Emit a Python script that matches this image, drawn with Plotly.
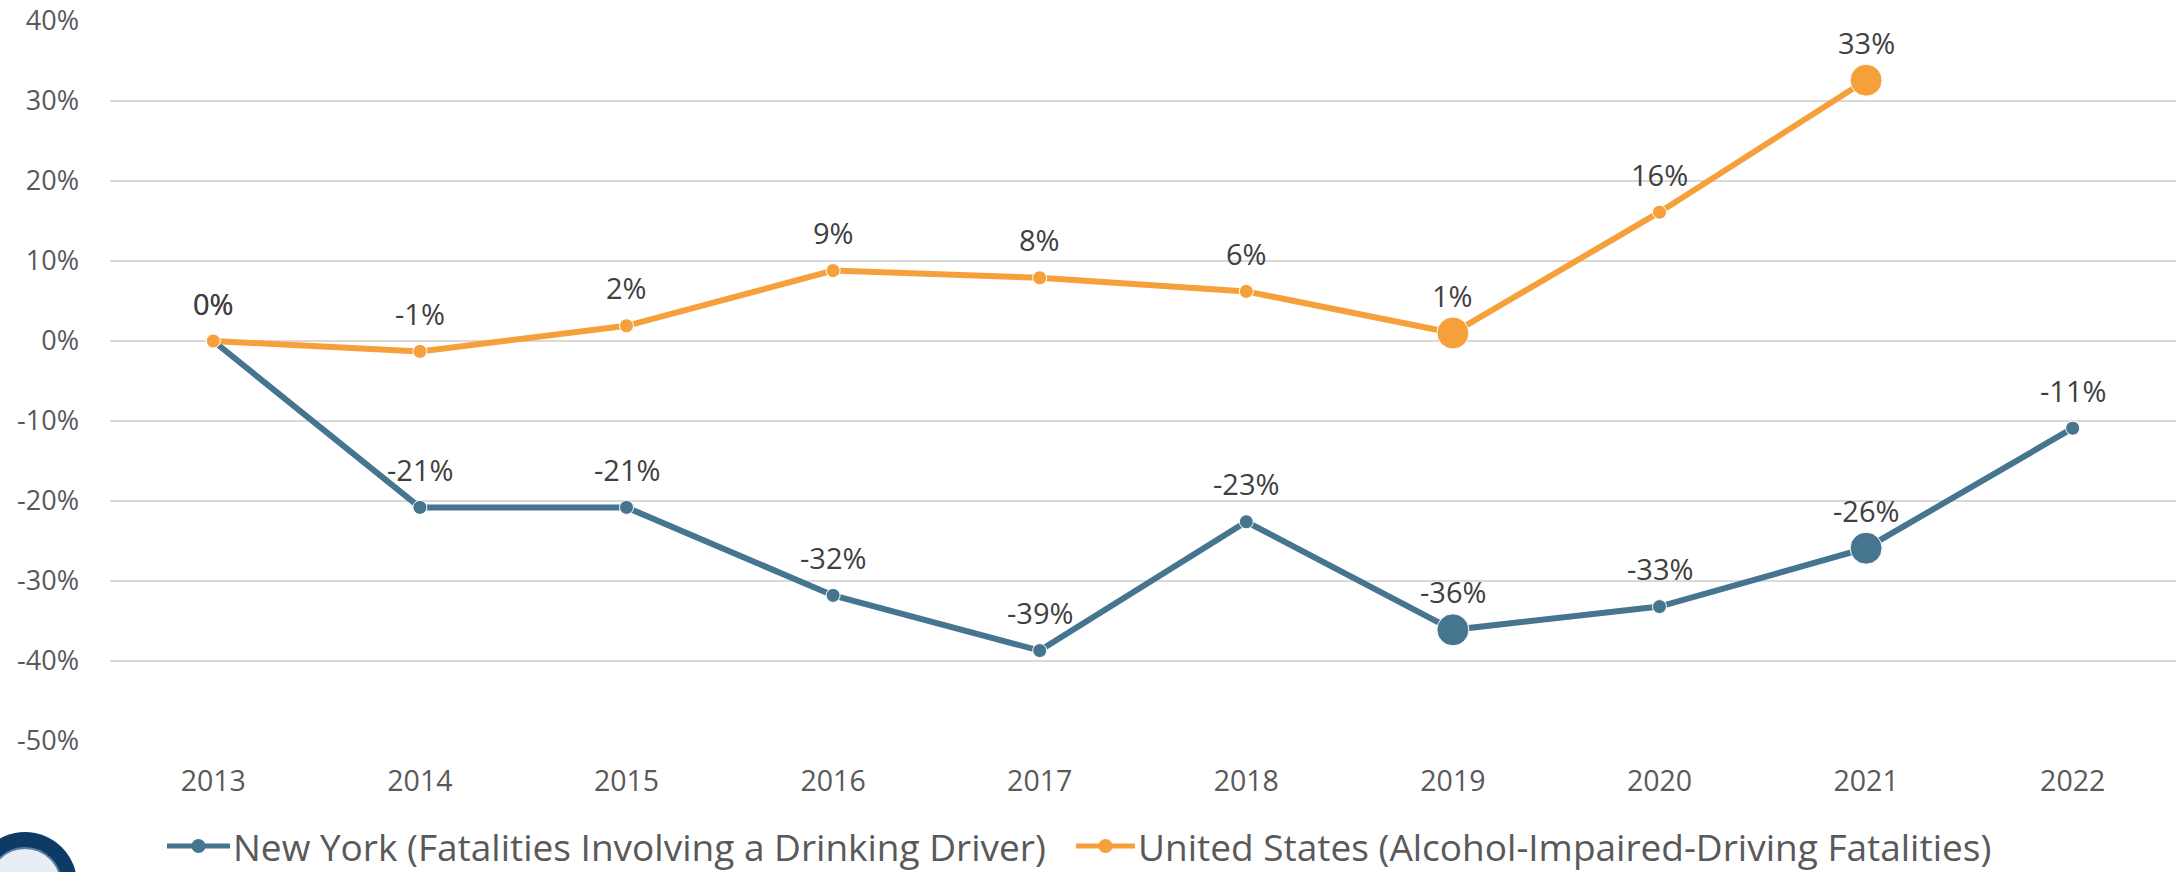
import plotly.graph_objects as go

years = ["2013", "2014", "2015", "2016", "2017", "2018", "2019", "2020", "2021", "2022"]
ny_values = [0.0, -0.208, -0.208, -0.318, -0.387, -0.226, -0.361, -0.332, -0.259, -0.109]
us_values = [0.0, -0.013, 0.019, 0.088, 0.079, 0.062, 0.010, 0.161, 0.326, None]
ny_name = "New York (Fatalities Involving a Drinking Driver)"
us_name = "United States (Alcohol-Impaired-Driving Fatalities)"
highlight_years = ["2019", "2021"]
y_tick_values = [0.4, 0.3, 0.2, 0.1, 0.0, -0.1, -0.2, -0.3, -0.4, -0.5]
y_tick_labels = ["40%", "30%", "20%", "10%", "0%", "-10%", "-20%", "-30%", "-40%", "-50%"]

BLUE = "#46758F"
ORANGE = "#F5A03A"
FONT = "Open Sans"

W, H = 2183, 872
L, R, T, B = 110, 7, 21, 131


def sizes(vals):
    return [32 if y in highlight_years else 14 for y, v in zip(years, vals)]


def label(v):
    return f"{round(v * 100):.0f}%"


def px_x(p):
    return (p - L) / (W - L - R)


def px_y(p):
    return (H - B - p) / (H - T - B)


fig = go.Figure()
series = [(ny_name, ny_values, BLUE), (us_name, us_values, ORANGE)]
for name, vals, color in series:
    fig.add_trace(go.Scatter(
        x=years, y=vals, name=name, mode="lines+markers",
        line=dict(color=color, width=6),
        marker=dict(color=color, size=sizes(vals), opacity=1),
        cliponaxis=False, showlegend=False,
    ))
    for i, v in enumerate(vals):
        if v is None:
            continue
        fig.add_annotation(x=i, y=v, text=label(v), showarrow=False,
                           yanchor="middle", yshift=38,
                           font=dict(family=FONT, size=29, color="#404040"))

# legend (line + marker symbol, then series name)
legend_y = 846
legend_slots = [(167, 230), (1076, 1135)]
for (name, vals, color), (x0, x1) in zip(series, legend_slots):
    fig.add_shape(type="line", xref="paper", yref="paper",
                  x0=px_x(x0), x1=px_x(x1), y0=px_y(legend_y), y1=px_y(legend_y),
                  line=dict(color=color, width=5))
    xm = (x0 + x1) / 2
    fig.add_shape(type="circle", xref="paper", yref="paper",
                  x0=px_x(xm - 7), x1=px_x(xm + 7),
                  y0=px_y(legend_y + 7), y1=px_y(legend_y - 7),
                  fillcolor=color, line=dict(width=0))
    fig.add_annotation(xref="paper", yref="paper", x=px_x(x1 + 1), y=px_y(legend_y),
                       xanchor="left", yanchor="middle", text=name, showarrow=False,
                       font=dict(family=FONT, size=37, color="#595959"))

# partial logo in bottom-left corner
cx, cy, r = 25, 884, 52
fig.add_shape(type="circle", xref="paper", yref="paper", layer="above",
              x0=px_x(cx - r), x1=px_x(cx + r), y0=px_y(cy + r), y1=px_y(cy - r),
              fillcolor="#0E3A66", line=dict(width=0))
r2 = 36
fig.add_shape(type="circle", xref="paper", yref="paper", layer="above",
              x0=px_x(cx - r2), x1=px_x(cx + r2), y0=px_y(cy + r2), y1=px_y(cy - r2),
              fillcolor="#E8EEF4", line=dict(color="#5A7FA3", width=2))
fig.add_annotation(xref="paper", yref="paper", x=px_x(22), y=px_y(846),
                   text="Traffic", showarrow=False, textangle=18,
                   font=dict(family=FONT, size=13, color="white"))

fig.update_layout(
    width=W, height=H,
    margin=dict(l=L, r=R, t=T, b=B, autoexpand=False),
    paper_bgcolor="white", plot_bgcolor="white",
    font=dict(family=FONT, color="#595959"),
    showlegend=False,
)
fig.update_xaxes(type="category", categoryorder="array", categoryarray=years,
                 range=[-0.5, len(years) - 0.5],
                 showgrid=False, showline=False, zeroline=False,
                 tickfont=dict(family=FONT, size=28.5, color="#595959"),
                 ticks="", ticklabelstandoff=20)
fig.update_yaxes(range=[-0.5, 0.4], tickvals=y_tick_values, ticktext=y_tick_labels,
                 showgrid=True, gridcolor="#D9D9D9", gridwidth=2,
                 zeroline=True, zerolinecolor="#D9D9D9", zerolinewidth=2,
                 showline=False, ticks="",
                 tickfont=dict(family=FONT, size=27, color="#595959"),
                 ticklabelstandoff=30)

fig.write_html("out.html", config={"displayModeBar": False},
               post_script="document.body.style.margin='0';document.body.style.overflow='hidden';")
